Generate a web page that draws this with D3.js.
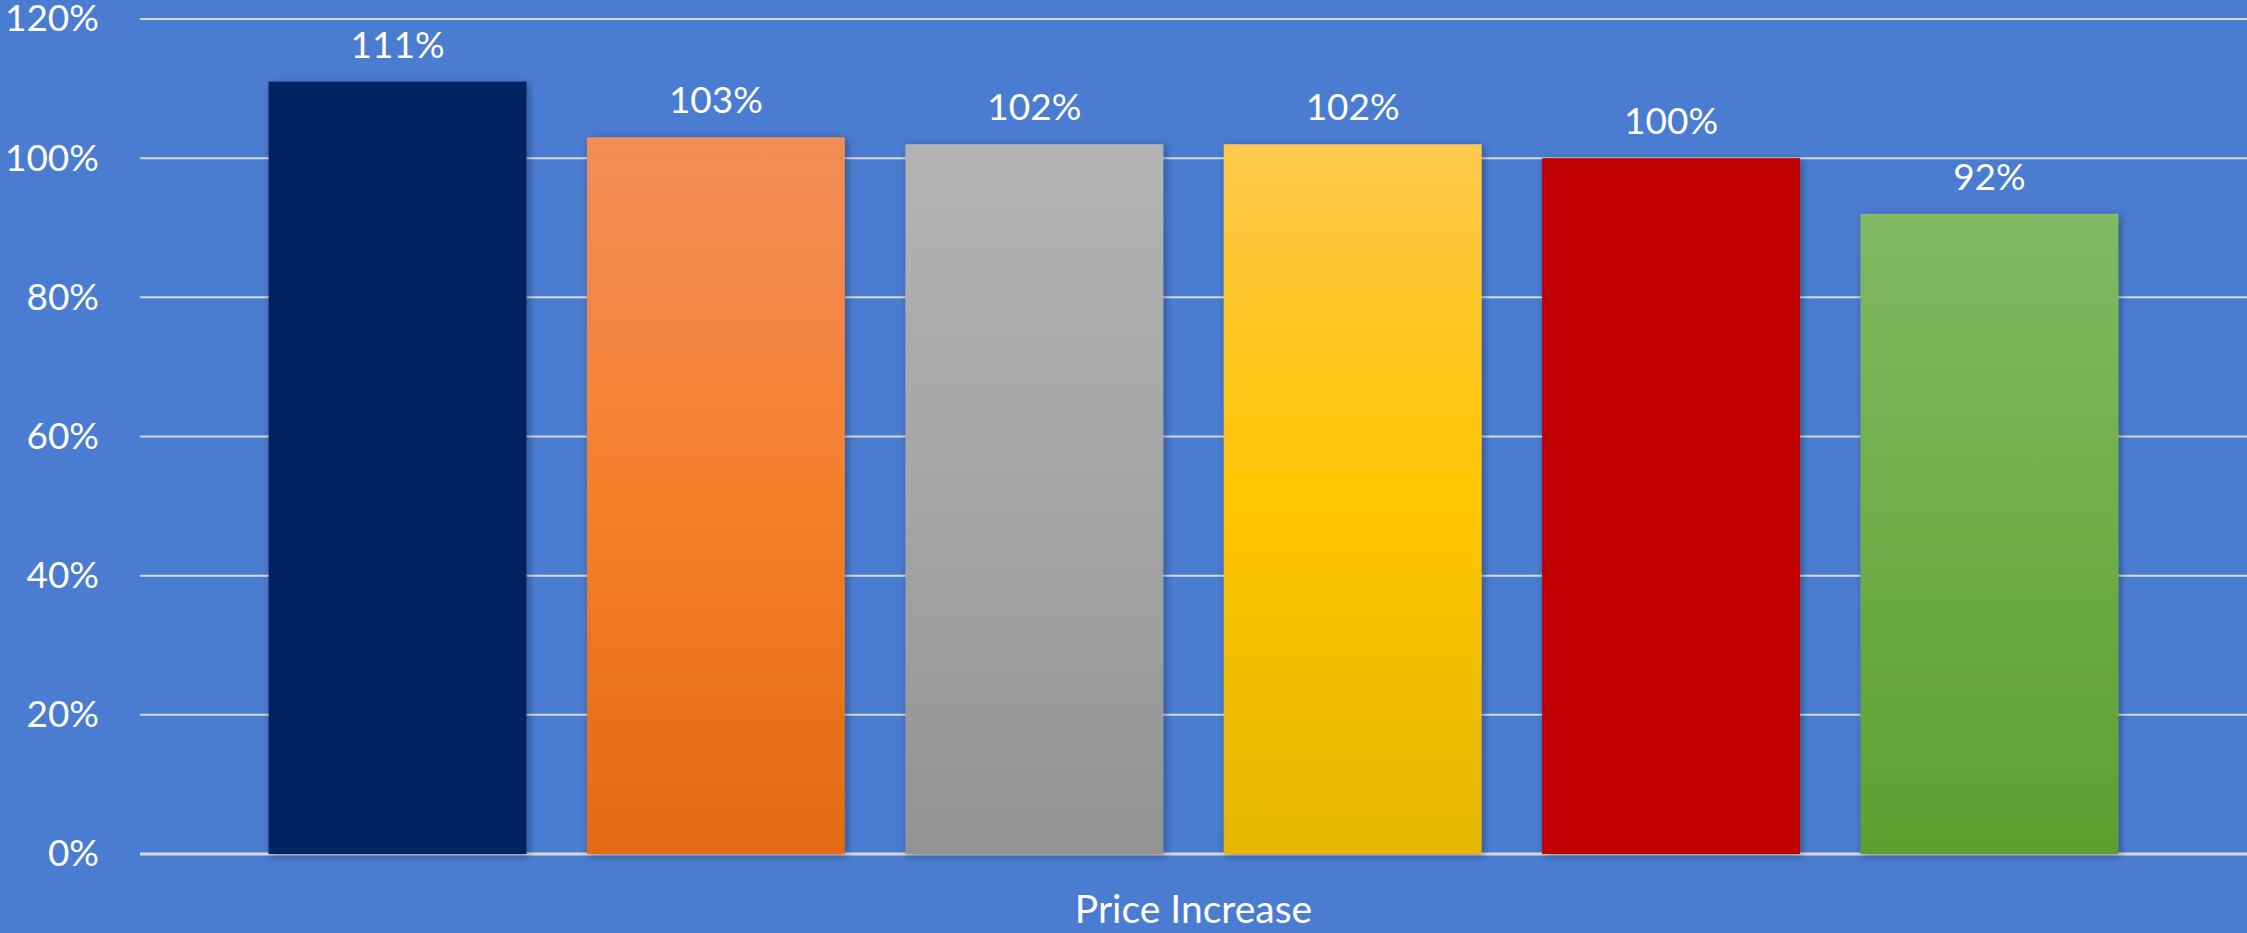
<!DOCTYPE html>
<html>
<head>
<meta charset="utf-8" />
<title>Price Increase</title>
<script src="https://cdn.jsdelivr.net/npm/d3@7"></script>
<style>
html, body { margin: 0; padding: 0; background: #4A7CD1; }
svg { display: block; }
text { font-family: Lato, "Open Sans", sans-serif; fill: #ffffff; }
</style>
</head>
<body>
<svg id="chart"></svg>
<script>
// data
var categories = ["Price Increase"];
var seriesNames = ["Series 1", "Series 2", "Series 3", "Series 4", "Series 5", "Series 6"];
var seriesValues = [1.11, 1.03, 1.02, 1.02, 1.00, 0.92];
var tickValues = [0, 0.2, 0.4, 0.6, 0.8, 1.0, 1.2];

// fills: [top, middle, bottom]; solid fills repeat one colour
var fills = [
  ["#002060", "#002060", "#002060"],
  ["#F28D59", "#F67F2C", "#E36A15"],
  ["#B3B3B3", "#A5A5A5", "#939393"],
  ["#FFC84C", "#FFC500", "#E4B600"],
  ["#C00000", "#C00000", "#C00000"],
  ["#82B964", "#70AD47", "#5D9E31"]
];

var width = 2247, height = 933;
var plotLeft = 140, plotRight = 2247, plotTop = 19, plotBottom = 854;

var svg = d3.select("#chart").attr("width", width).attr("height", height);

var defs = svg.append("defs");
fills.forEach(function(f, i){
  var g = defs.append("linearGradient").attr("id", "grad" + i)
    .attr("x1", 0).attr("y1", 0).attr("x2", 0).attr("y2", 1);
  g.append("stop").attr("offset", "0%").attr("stop-color", f[0]);
  g.append("stop").attr("offset", "50%").attr("stop-color", f[1]);
  g.append("stop").attr("offset", "100%").attr("stop-color", f[2]);
});
var shadow = defs.append("filter").attr("id", "shadow")
  .attr("x", "-10%").attr("y", "-10%").attr("width", "130%").attr("height", "130%");
shadow.append("feDropShadow").attr("dx", 2).attr("dy", 2).attr("stdDeviation", 4)
  .attr("flood-color", "#000").attr("flood-opacity", 0.35);

var y = d3.scaleLinear().domain([0, 1.2]).range([plotBottom, plotTop]);
var x0 = d3.scaleBand().domain(categories).range([plotLeft, plotRight]).padding(0);
var x1 = d3.scaleBand().domain(seriesNames).range([0, x0.bandwidth()])
  .paddingInner(0.19).paddingOuter(0.404);

// gridlines
svg.append("g").selectAll("line").data(tickValues).enter().append("line")
  .attr("x1", plotLeft).attr("x2", plotRight)
  .attr("y1", function(d){ return y(d); }).attr("y2", function(d){ return y(d); })
  .attr("stroke", "#D9D9D9")
  .attr("stroke-width", function(d){ return d === 0 ? 3 : 2; });

// y axis labels
var yAxis = svg.append("g").attr("transform", "translate(" + plotLeft + ",0)")
  .call(d3.axisLeft(y).tickValues(tickValues).tickFormat(d3.format(".0%")).tickSize(0).tickPadding(41));
yAxis.select(".domain").remove();
yAxis.selectAll("text").style("font-size", "37px").style("fill", "#fff")
  .style("font-family", "Lato, 'Open Sans', sans-serif");

// bars
var gBars = svg.append("g").selectAll("g").data(categories).enter().append("g")
  .attr("transform", function(d){ return "translate(" + x0(d) + ",0)"; });

gBars.selectAll("rect").data(seriesValues).enter().append("rect")
  .attr("x", function(d, i){ return x1(seriesNames[i]); })
  .attr("width", x1.bandwidth())
  .attr("y", function(d){ return y(d); })
  .attr("height", function(d){ return y(0) - y(d); })
  .attr("fill", function(d, i){ return "url(#grad" + i + ")"; })
  .attr("filter", "url(#shadow)");

// value labels
gBars.selectAll("text.val").data(seriesValues).enter().append("text")
  .attr("class", "val")
  .attr("x", function(d, i){ return x1(seriesNames[i]) + x1.bandwidth() / 2; })
  .attr("y", function(d){ return y(d) - 24; })
  .attr("text-anchor", "middle")
  .style("font-size", "37px")
  .text(function(d){ return d3.format(".0%")(d); });

// x axis label
var xAxis = svg.append("g").attr("transform", "translate(0," + plotBottom + ")")
  .call(d3.axisBottom(x0).tickSize(0).tickPadding(41));
xAxis.select(".domain").remove();
xAxis.selectAll("text").style("font-size", "39px").style("fill", "#fff")
  .style("font-family", "Lato, 'Open Sans', sans-serif");
</script>
</body>
</html>
